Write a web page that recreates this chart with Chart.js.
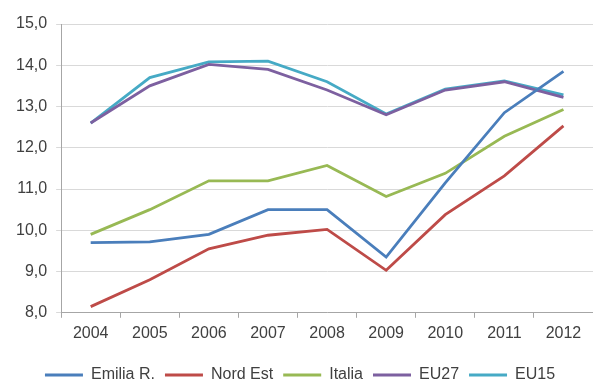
<!DOCTYPE html>
<html>
<head>
<meta charset="utf-8">
<script src="https://cdn.jsdelivr.net/npm/chart.js@4"></script>
<style>
  html, body { margin: 0; padding: 0; background: #fff; overflow: hidden; }
  /* il box è più alto della finestra: il margine sotto la legenda resta fuori */
  #box { width: 593px; height: 393px; position: relative; }
</style>
</head>
<body>
<div id="box"><canvas id="grafico"></canvas></div>
<script>
// dati
const anni = ['2004', '2005', '2006', '2007', '2008', '2009', '2010', '2011', '2012'];
const emiliaR = [9.70, 9.72, 9.90, 10.50, 10.50, 9.35, 11.15, 12.85, 13.85];
const nordEst = [8.15, 8.80, 9.55, 9.88, 10.02, 9.03, 10.38, 11.32, 12.53];
const italia = [9.90, 10.50, 11.20, 11.20, 11.57, 10.82, 11.38, 12.28, 12.93];
const eu27 = [12.60, 13.50, 14.02, 13.90, 13.40, 12.80, 13.40, 13.60, 13.22];
const eu15 = [12.60, 13.70, 14.08, 14.10, 13.60, 12.82, 13.42, 13.62, 13.28];

const serie = [
  { nome: 'Emilia R.', dati: emiliaR, colore: '#4a7ebb' },
  { nome: 'Nord Est', dati: nordEst, colore: '#be4b48' },
  { nome: 'Italia', dati: italia, colore: '#98b954' },
  { nome: 'EU27', dati: eu27, colore: '#7d60a0' },
  { nome: 'EU15', dati: eu15, colore: '#46aac5' }
];

const font = "'Liberation Sans', Arial, sans-serif";

new Chart(document.getElementById('grafico'), {
  type: 'line',
  data: {
    labels: anni,
    datasets: serie.map(s => ({
      label: s.nome,
      data: s.dati,
      borderColor: s.colore,
      backgroundColor: s.colore,
      borderWidth: 2.8,
      pointRadius: 0,
      tension: 0
    }))
  },
  options: {
    responsive: true,
    maintainAspectRatio: false,
    animation: false,
    layout: { padding: { left: 7, right: 0, top: 24, bottom: 0 } },
    plugins: {
      tooltip: { enabled: false },
      legend: {
        position: 'bottom',
        labels: {
          usePointStyle: true,
          pointStyle: 'line',
          pointStyleWidth: 38,
          color: '#404040',
          font: { family: font, size: 16 },
          padding: 10
        }
      }
    },
    scales: {
      x: {
        offset: true,
        grid: { display: true, drawOnChartArea: false, color: '#a6a6a6', tickLength: 5, offset: true },
        border: { color: '#a6a6a6' },
        ticks: { color: '#404040', font: { family: font, size: 16 }, padding: 6, maxRotation: 0 },
        // titolo vuoto: solo un po' di spazio tra anni e legenda
        title: { display: true, text: ' ', font: { size: 8, lineHeight: 1 }, padding: { top: 0, bottom: 0 } }
      },
      y: {
        min: 8,
        max: 15,
        grid: { color: '#d9d9d9', tickLength: 5 },
        border: { color: '#a6a6a6' },
        ticks: {
          stepSize: 1,
          color: '#404040',
          font: { family: font, size: 16 },
          padding: 9,
          callback: v => v.toFixed(1).replace('.', ',')
        }
      }
    }
  }
});
</script>
</body>
</html>
